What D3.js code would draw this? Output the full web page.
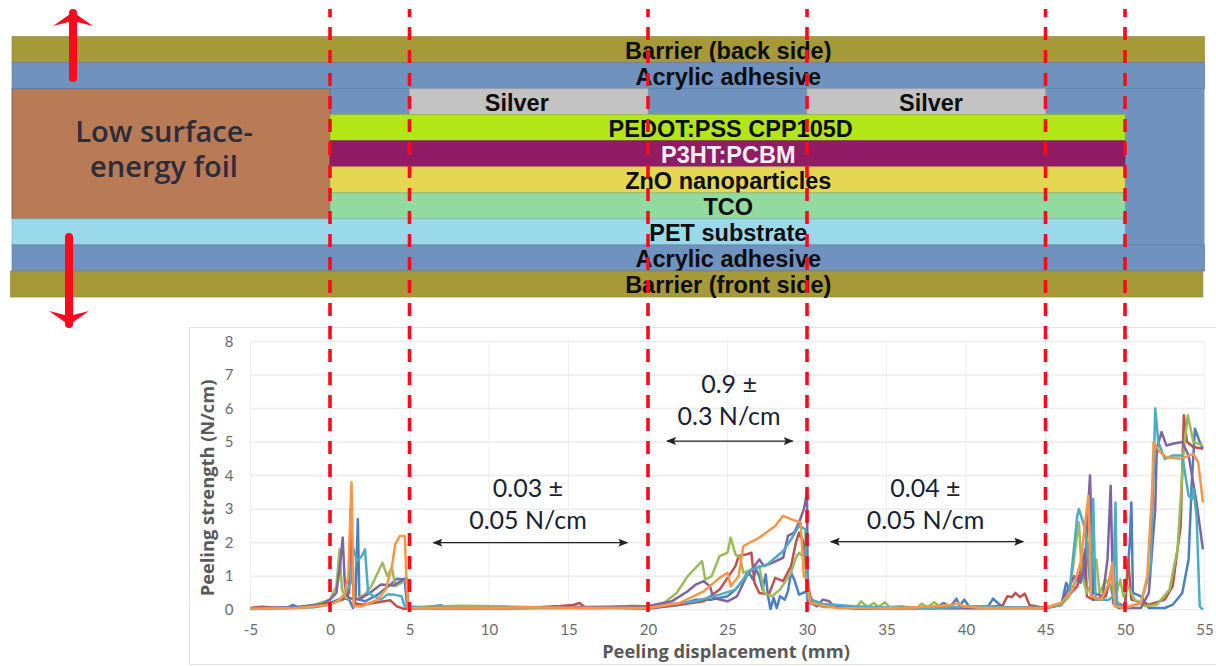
<!DOCTYPE html>
<html>
<head>
<meta charset="utf-8">
<script src="https://cdn.jsdelivr.net/npm/d3@7"></script>
<style>
    html, body { margin: 0; padding: 0; background: #fff; }
    svg { display: block; }
    .layerLabel { font-family: "Liberation Sans", Arial, sans-serif; font-weight: bold; font-size: 23.5px; text-anchor: middle; }
    .axis text { font-family: Lato, "Open Sans", sans-serif; font-size: 15px; fill: #6a6a6a; }
    .axisTitle { font-family: "Open Sans", Lato, sans-serif; font-weight: 700; font-size: 18.3px; fill: #595959; text-anchor: middle; }
    .note { font-family: Lato, "Open Sans", sans-serif; font-size: 25px; fill: #161f36; text-anchor: middle; }
</style>
</head>
<body>
<div id="chart"></div>
<script>
//tick labels
var xTicks = [-5, 0, 5, 10, 15, 20, 25, 30, 35, 40, 45, 50, 55];
var yTicks = [0, 1, 2, 3, 4, 5, 6, 7, 8];

//stack of layers: name, row, start and end in mm, label centre in mm
var layerNames = ["Barrier (back side)", "Acrylic adhesive", "Silver", "Silver", "PEDOT:PSS CPP105D", "P3HT:PCBM", "ZnO nanoparticles", "TCO", "PET substrate", "Acrylic adhesive", "Barrier (front side)"];
var layerRows = [0, 1, 2, 2, 3, 4, 5, 6, 7, 8, 9];
var layerStart = [-20, -20, 5, 30, 0, 0, 0, 0, -20, -20, -20.1];
var layerEnd = [55, 55, 20, 45, 50, 50, 50, 50, 50, 55, 54.9];
var layerLabelAt = [25.05, 25.05, 11.75, 37.8, 25.2, 25.05, 25.05, 25.05, 25.05, 25.05, 25.05];
var layerColors = ["#a69a38", "#6f92bf", "#c2c2c2", "#c2c2c2", "#b2e617", "#901c66", "#e5d751", "#92da9f", "#9ad9ea", "#6f92bf", "#a69a38"];

var cutLines = [0, 5, 20, 30, 45, 50];

//peeling curves, [displacement, strength]
var blueTrace = [[-5, .03], [-3.5, .05], [-2.6, .08], [-2.3, .14], [-2, .07], [-1, .1], [0, .2], [.8, .35], [1.2, .3], [1.45, .05], [1.6, .3], [1.75, 2.7], [1.85, .3], [2.2, .25], [3, .45], [3.8, .75], [4.2, .92], [4.7, .9], [4.85, .1], [5.2, .06], [6.5, .1], [7, .13], [7.4, .06], [10, .05], [13, .06], [15, .08], [18, .06], [20, .03], [22, .15], [23, .3], [24, .3], [25, .4], [25.5, .6], [26, .9], [26.3, 1.15], [26.6, .9], [26.8, 1.2], [27, 1], [27.2, .6], [27.4, 1.05], [27.55, .4], [27.7, .02], [27.9, .35], [28.1, .05], [28.3, .4], [28.6, .3], [28.8, .55], [29, 1.1], [29.2, .9], [29.5, .45], [30, .55], [30.05, .2], [31, .1], [36, .04], [38, .05], [38.6, .2], [39, .08], [39.4, .33], [39.6, .12], [39.9, .3], [40.2, .08], [41.4, .1], [41.7, .33], [42, .2], [42.3, .08], [44, .06], [45, .05], [46, .15], [46.3, .8], [46.6, .5], [47, 1], [47.4, .9], [47.7, 2], [47.95, .3], [48.6, .3], [49, .8], [49.4, .2], [50, .1], [50.3, 2], [50.4, 3.2], [50.5, .5], [51, .4], [51.5, .05], [52.5, .05], [53, .15], [53.6, .5], [54, 1.5], [54.2, 3.8], [54.4, 5.4], [54.7, 5], [54.9, 4.8]];
var redTrace = [[-5, .05], [-4.3, .09], [-3, .05], [-1, .09], [0, .2], [.8, .3], [1.2, .5], [1.3, 3], [1.5, .2], [2, .15], [3, .22], [3.8, .28], [4.2, .1], [4.6, .03], [6, .05], [10, .06], [13, .07], [14.5, .11], [15.3, .14], [15.7, .2], [16, .08], [18, .07], [20, .05], [22, .15], [23.5, .25], [24.5, .6], [25, .95], [25.5, 1.3], [25.7, 1.6], [26.2, 1.65], [26.5, 1.7], [26.7, .8], [27, .5], [27.6, .45], [28, .95], [28.5, .85], [29, 1.3], [29.3, 2], [29.5, 2.3], [29.8, 2], [30, .9], [30.2, .4], [30.5, .15], [33, .05], [41, .05], [41.8, .1], [42.3, .12], [42.6, .4], [42.9, .38], [43.1, .5], [43.4, .38], [43.7, .48], [44, .13], [45, .05], [46, .2], [47, .7], [47.5, 1.8], [47.6, .4], [48, .3], [48.8, .4], [49.2, 1.3], [49.5, .2], [50, .1], [50.2, 1.5], [50.4, .3], [51.5, .15], [52.5, .3], [53, .7], [53.5, 2.5], [53.7, 5.8], [53.9, 5], [54.3, 4.85], [54.9, 4.8]];
var greenTrace = [[-5, .03], [-2, .08], [-1, .14], [0, .3], [.4, .7], [.6, 1.8], [.75, .6], [1, .35], [1.5, .3], [2.2, .45], [2.6, .7], [3, 1.1], [3.3, 1.4], [3.6, 1], [3.9, 1.25], [4.1, .7], [4.5, .8], [4.8, .95], [4.9, .1], [6, .07], [8, .12], [11, .1], [14, .06], [17, .05], [19, .12], [20, .1], [21, .2], [21.8, .5], [22.5, 1], [23.4, 1.45], [23.6, .9], [24, 1], [24.5, 1.6], [25, 1.7], [25.2, 2.15], [25.5, 1.65], [25.8, 1.55], [26, 1.1], [26.5, 1.2], [27, 1.3], [27.3, .5], [27.8, .4], [28.3, .6], [29, 1.1], [29.3, 1.55], [29.5, 1.7], [29.9, 1.5], [30.1, .3], [31, .08], [33.1, .06], [33.4, .25], [33.8, .08], [34.2, .2], [34.5, .08], [34.9, .22], [35.2, .08], [36, .1], [36.5, .06], [37, .08], [37.2, .18], [37.6, .08], [38, .22], [38.4, .08], [40, .05], [45, .04], [46, .15], [46.5, .4], [47, 2.3], [47.1, 2.6], [47.3, 1], [47.6, .5], [48, .9], [48.2, 1.5], [48.4, .5], [48.8, .9], [49.4, .4], [49.7, .9], [49.9, .4], [50.2, .7], [50.6, .3], [51.3, .1], [52, .15], [52.8, .6], [53.3, 1.8], [53.7, 4.8], [53.95, 5.8], [54.3, 5], [54.9, 4.9]];
var purpleTrace = [[-5, .04], [-2, .08], [-.5, .17], [0, .3], [.4, .5], [.6, 1.2], [.8, 2.15], [.95, .6], [1.2, .35], [1.8, .3], [2.5, .5], [3.2, .75], [4, .72], [4.6, .9], [4.8, .95], [4.9, .05], [7, .05], [12, .05], [16, .08], [20, .1], [21.5, .25], [22.5, .55], [23, .75], [23.5, .85], [23.9, .7], [24.1, .35], [25, .25], [25.6, .4], [26.2, 1], [27, 1.5], [27.3, 1.3], [27.8, 1.4], [28.5, 1.55], [28.8, 2.2], [29.2, 2.3], [29.5, 2.6], [29.8, 3], [30, 3.5], [30.05, .3], [30.6, .1], [31, .3], [31.4, .25], [31.7, .1], [33, .03], [37, .06], [38, .04], [45, .05], [46, .15], [46.2, .4], [46.8, 1], [47.2, .8], [47.5, 1.5], [47.8, 4], [48, .5], [48.6, .4], [48.9, 1.5], [49.1, 3.7], [49.25, .2], [49.6, .05], [51, .05], [51.5, .5], [51.9, 3], [52, 4.8], [52.3, 5.3], [52.6, 4.9], [53, 4.95], [53.6, 5], [54, 4.6], [54.5, 3.2], [54.9, 1.8]];
var tealTrace = [[-5, .02], [-1, .07], [0, .15], [.6, .3], [1, .5], [1.3, .8], [1.45, 1.85], [1.7, 1.45], [2, 1.6], [2.2, 1.8], [2.4, .5], [2.8, .4], [3.2, .3], [3.6, .45], [4, .45], [4.5, .4], [4.7, .1], [6, .03], [12, .04], [20, .05], [22, .2], [23, .25], [24.5, .45], [25.5, .6], [26.5, 1.2], [27.5, 1.35], [28.5, 1.75], [29, 2.1], [29.5, 2.5], [29.9, 2.4], [30, .35], [31, .17], [33, .1], [35, .06], [38, .05], [39, .07], [41, .1], [43, .06], [45, .05], [46, .15], [46.5, .5], [47, 2.8], [47.1, 3], [47.5, 2.4], [47.85, .5], [48, 3.3], [48.15, .3], [49, .3], [49.25, .4], [49.4, 3.2], [49.5, .2], [50, .05], [51, .2], [51.6, 1.2], [51.8, 4], [51.9, 6], [52.1, 5], [52.5, 4.5], [53, 4.6], [53.6, 4.6], [54, 3.4], [54.2, 3.3], [54.3, 3.6], [54.5, 2.8], [54.7, .1], [54.9, 0]];
var orangeTrace = [[-5, .03], [-2, .05], [0, .15], [.5, .25], [.9, .45], [1.15, 1], [1.35, 3.8], [1.5, .1], [2, .1], [2.5, .2], [3, .3], [3.5, .6], [3.9, 1.3], [4.1, 1.95], [4.4, 2.2], [4.7, 2.2], [4.8, 1], [4.9, .05], [6, .04], [9, .06], [10.5, .05], [12, .07], [15, .06], [20, .05], [22, .2], [23.5, .55], [24.5, .95], [25, 1.1], [25.2, .7], [25.7, 1], [26, 1.9], [27, 2.15], [28, 2.5], [28.5, 2.8], [29, 2.7], [29.6, 2.6], [29.8, 1], [30, .9], [30.2, .2], [32, .04], [36, .05], [38, .1], [39.2, .15], [39.5, .2], [39.8, .1], [41, .05], [44, .05], [45, .05], [46, .2], [46.7, .6], [47.2, 1.4], [47.7, 3.4], [47.85, .4], [48.5, .3], [49, .8], [49.2, 1.4], [49.35, .1], [50, .05], [51, .2], [51.4, 1], [51.7, 3.5], [51.8, 5], [52.2, 4.7], [52.6, 4.55], [53.5, 4.5], [54.3, 4.65], [54.6, 4.4], [54.9, 3.2]];

var traces = [blueTrace, redTrace, greenTrace, purpleTrace, tealTrace, orangeTrace];
var traceColors = ["#4a7fc4", "#c0504d", "#9bbb59", "#8064a2", "#4bacc6", "#f79646"];

//annotations: text lines, centre in mm, arrow ends in mm and strength
var noteLines = [["0.03 ±", "0.05 N/cm"], ["0.9 ±", "0.3 N/cm"], ["0.04 ±", "0.05 N/cm"]];
var noteCentre = [12.45, 25.1, 37.45];
var noteTop = [3.36, 6.45, 3.36];
var noteArrowFrom = [6.5, 21.2, 31.5];
var noteArrowTo = [18.7, 29.1, 43.6];
var noteArrowY = [2, 5.03, 2.03];

var width = 1216;
var height = 666;

var svg = d3.select("#chart")
    .append("svg")
    .attr("width", width)
    .attr("height", height);

//scales
var xScale = d3.scaleLinear().domain([-5, 55]).range([250.5, 1204.5]);
var yScale = d3.scaleLinear().domain([0, 8]).range([609.7, 341.5]);
var rowScale = d3.scaleLinear().domain([0, 10]).range([36.5, 297]);

//defs for arrow heads
var defs = svg.append("defs");
defs.append("marker")
    .attr("id", "noteHead")
    .attr("viewBox", "0 0 10 8")
    .attr("refX", 9)
    .attr("refY", 4)
    .attr("markerWidth", 10)
    .attr("markerHeight", 8)
    .attr("markerUnits", "userSpaceOnUse")
    .attr("orient", "auto-start-reverse")
    .append("path")
    .attr("d", "M0,0L10,4L0,8L2,4Z")
    .attr("fill", "#222");

//chart frame
svg.append("path")
    .attr("d", "M1216,327.5H189.5V664.5H1216")
    .attr("fill", "none")
    .attr("stroke", "#e2e2e2");

//grid
var grid = svg.append("g");
grid.selectAll(".gridY")
    .data(yTicks)
    .enter().append("line")
    .attr("x1", xScale(-5))
    .attr("x2", xScale(55))
    .attr("y1", yScale)
    .attr("y2", yScale)
    .attr("stroke", "#ececec")
    .attr("stroke-width", 1.5);
grid.selectAll(".gridX")
    .data(xTicks)
    .enter().append("line")
    .attr("x1", xScale)
    .attr("x2", xScale)
    .attr("y1", yScale(0))
    .attr("y2", yScale(8))
    .attr("stroke", "#eeeeee")
    .attr("stroke-width", 1);

//axis
var xAxis = d3.axisBottom(xScale).tickValues(xTicks).tickFormat(String).tickSize(0).tickPadding(15);
var yAxis = d3.axisLeft(yScale).tickValues(yTicks).tickSize(0).tickPadding(17);

svg.append("g")
    .attr("class", "axis")
    .attr("transform", "translate(0," + yScale(0) + ")")
    .call(xAxis)
    .call(function (g) { g.select(".domain").remove(); });

svg.append("g")
    .attr("class", "axis")
    .attr("transform", "translate(" + xScale(-5) + ",0)")
    .call(yAxis)
    .call(function (g) { g.select(".domain").remove(); });

svg.append("text")
    .attr("class", "axisTitle")
    .attr("x", 726)
    .attr("y", 658)
    .text("Peeling displacement (mm)");

svg.append("text")
    .attr("class", "axisTitle")
    .attr("transform", "translate(214,488) rotate(-90)")
    .text("Peeling strength (N/cm)");

//peeling curves
var lineSegment = d3.line()
    .x(function (d) { return xScale(d[0]); })
    .y(function (d) { return yScale(d[1]); });

svg.append("g").selectAll("path")
    .data(traces)
    .enter().append("path")
    .attr("d", lineSegment)
    .attr("fill", "none")
    .attr("stroke", function (d, i) { return traceColors[i]; })
    .attr("stroke-width", 2.5)
    .attr("stroke-linejoin", "round");

//adhesive fills the gaps of the stack between the two barriers
svg.append("rect")
    .attr("x", xScale(-20))
    .attr("y", rowScale(1))
    .attr("width", xScale(55) - xScale(-20))
    .attr("height", rowScale(9) - rowScale(1))
    .attr("fill", "#6f92bf");

//foil
svg.append("rect")
    .attr("x", xScale(-20))
    .attr("y", rowScale(2))
    .attr("width", xScale(0) - xScale(-20))
    .attr("height", rowScale(7) - rowScale(2))
    .attr("fill", "#b97a56")
    .attr("stroke", "#7c6a5e")
    .attr("stroke-width", 1);

var foilText = svg.append("text")
    .attr("font-family", "'Open Sans', 'Liberation Sans', sans-serif")
    .attr("font-weight", 600)
    .attr("font-size", 29)
    .attr("fill", "#2b2d3b")
    .attr("text-anchor", "middle");
foilText.append("tspan").attr("x", 164).attr("y", 142).text("Low surface-");
foilText.append("tspan").attr("x", 164).attr("y", 177).text("energy foil");

//layers
var layers = svg.append("g").selectAll("g")
    .data(layerNames)
    .enter().append("g");

layers.append("rect")
    .attr("x", function (d, i) { return xScale(layerStart[i]); })
    .attr("y", function (d, i) { return rowScale(layerRows[i]); })
    .attr("width", function (d, i) { return xScale(layerEnd[i]) - xScale(layerStart[i]); })
    .attr("height", function (d, i) { return rowScale(layerRows[i] + 1) - rowScale(layerRows[i]); })
    .attr("fill", function (d, i) { return layerColors[i]; })
    .attr("stroke", function (d, i) { return d3.color(layerColors[i]).darker(0.5); })
    .attr("stroke-opacity", 0.6)
    .attr("stroke-width", 1);

layers.append("text")
    .attr("class", "layerLabel")
    .attr("x", function (d, i) { return xScale(layerLabelAt[i]); })
    .attr("y", function (d, i) { return rowScale(layerRows[i]) + 22.5; })
    .attr("fill", function (d) { return d === "P3HT:PCBM" ? "#f6f0f6" : "#0d0d0d"; })
    .text(function (d) { return d; });

//annotations
var notes = svg.append("g").selectAll("g")
    .data(noteLines)
    .enter().append("g");

notes.each(function (lines, i) {
    var t = d3.select(this).append("text").attr("class", "note");
    lines.forEach(function (s, j) {
        t.append("tspan")
            .attr("x", xScale(noteCentre[i]))
            .attr("y", yScale(noteTop[i]) + j * 32)
            .text(s);
    });
    d3.select(this).append("line")
        .attr("x1", xScale(noteArrowFrom[i]))
        .attr("x2", xScale(noteArrowTo[i]))
        .attr("y1", yScale(noteArrowY[i]))
        .attr("y2", yScale(noteArrowY[i]))
        .attr("stroke", "#222")
        .attr("stroke-width", 1.2)
        .attr("marker-start", "url(#noteHead)")
        .attr("marker-end", "url(#noteHead)");
});

//red dashed cut lines
svg.append("g").selectAll("line")
    .data(cutLines)
    .enter().append("line")
    .attr("x1", xScale)
    .attr("x2", xScale)
    .attr("y1", 9)
    .attr("y2", 612)
    .attr("stroke", "#fb0a1e")
    .attr("stroke-width", 3.6)
    .attr("stroke-dasharray", "13 10")
    .attr("stroke-dashoffset", 5);

//big red peel arrows
function peelArrow(x, tip, tail, dir) {
    svg.append("path")
        .attr("d", "M" + x + "," + tail + "V" + tip)
        .attr("stroke", "#fb0a1e")
        .attr("stroke-width", 8)
        .attr("stroke-linecap", "round");
    svg.append("path")
        .attr("d", "M" + (x - 20) + "," + (tip + dir * 13) + "L" + x + "," + (tip - dir * 1) + "L" + (x + 20) + "," + (tip + dir * 13) +
            "L" + (x + 4) + "," + (tip + dir * 9) + "L" + (x - 4) + "," + (tip + dir * 9) + "Z")
        .attr("fill", "#fb0a1e");
}
peelArrow(73, 13, 78, 1);
peelArrow(69, 324, 237, -1);
</script>
</body>
</html>
